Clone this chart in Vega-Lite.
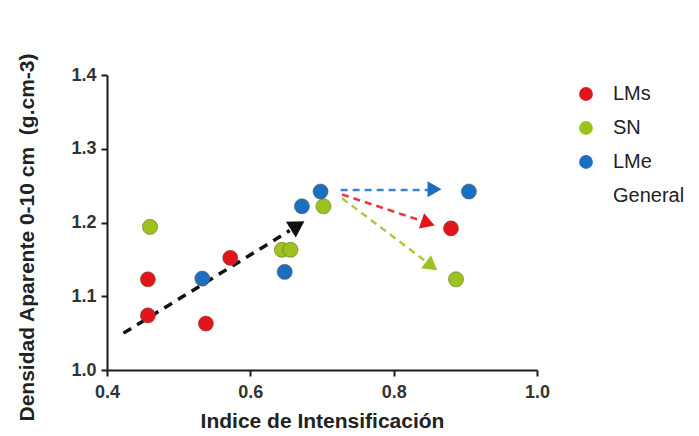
{
  "$schema": "https://vega.github.io/schema/vega-lite/v6.json",
  "width": 430,
  "height": 295,
  "autosize": {"type": "none"},
  "padding": {"left": 107, "top": 75, "right": 162, "bottom": 66},
  "background": "white",
  "config": {
    "view": {"stroke": null},
    "font": "Liberation Sans",
    "axis": {"grid": false, "labelFlush": false, "domainColor": "#1a1a1a", "domainWidth": 2, "tickColor": "#1a1a1a", "tickWidth": 2, "tickSize": 6, "labelFont": "Liberation Sans", "labelFontWeight": "bold", "labelFontSize": 18, "labelColor": "#333333", "titleFont": "Liberation Sans", "titleFontWeight": "bold", "titleFontSize": 21, "titleColor": "#222222"},
    "legend": {"padding": 0}
  },
  "datasets": {
    "pts": [
      {"x": 0.457, "y": 1.074, "grupo": "LMs"},
      {"x": 0.457, "y": 1.123, "grupo": "LMs"},
      {"x": 0.538, "y": 1.063, "grupo": "LMs"},
      {"x": 0.572, "y": 1.152, "grupo": "LMs"},
      {"x": 0.880, "y": 1.192, "grupo": "LMs"},
      {"x": 0.460, "y": 1.194, "grupo": "SN"},
      {"x": 0.644, "y": 1.163, "grupo": "SN"},
      {"x": 0.656, "y": 1.163, "grupo": "SN"},
      {"x": 0.702, "y": 1.222, "grupo": "SN"},
      {"x": 0.887, "y": 1.123, "grupo": "SN"},
      {"x": 0.533, "y": 1.124, "grupo": "LMe"},
      {"x": 0.648, "y": 1.133, "grupo": "LMe"},
      {"x": 0.672, "y": 1.222, "grupo": "LMe"},
      {"x": 0.698, "y": 1.242, "grupo": "LMe"},
      {"x": 0.905, "y": 1.242, "grupo": "LMe"}
    ],
    "lines": [
      {"arrow": "General", "x": 0.423, "y": 1.050, "o": 1},
      {"arrow": "General", "x": 0.655, "y": 1.189, "o": 2},
      {"arrow": "LMe", "x": 0.726, "y": 1.244, "o": 1},
      {"arrow": "LMe", "x": 0.848, "y": 1.244, "o": 2},
      {"arrow": "LMs", "x": 0.728, "y": 1.238, "o": 1},
      {"arrow": "LMs", "x": 0.840, "y": 1.202, "o": 2},
      {"arrow": "SN", "x": 0.728, "y": 1.233, "o": 1},
      {"arrow": "SN", "x": 0.845, "y": 1.147, "o": 2}
    ],
    "heads": [
      {"arrow": "General", "x": 0.666, "y": 1.196},
      {"arrow": "LMe", "x": 0.857, "y": 1.245},
      {"arrow": "LMs", "x": 0.848, "y": 1.199},
      {"arrow": "SN", "x": 0.853, "y": 1.141}
    ]
  },
  "layer": [
    {
      "data": {"name": "lines"},
      "transform": [{"filter": "datum.arrow == 'General'"}],
      "mark": {"type": "line", "color": "#111111", "strokeWidth": 3.5, "strokeDash": [9, 7]},
      "encoding": {
        "x": {"field": "x", "type": "quantitative", "scale": {"domain": [0.4, 1.0], "nice": false}, "axis": {"values": [0.4, 0.6, 0.8, 1.0], "format": ".1f", "title": "Indice de Intensificación", "titlePadding": 9, "labelPadding": 7}},
        "y": {"field": "y", "type": "quantitative", "scale": {"domain": [1.0, 1.4], "nice": false, "zero": false}, "axis": {"values": [1.0, 1.1, 1.2, 1.3, 1.4], "format": ".1f", "title": "Densidad Aparente 0-10 cm \u00a0(g.cm-3)", "titlePadding": 33, "titleY": 162, "labelPadding": 5}},
        "order": {"field": "o"}
      }
    },
    {
      "data": {"name": "lines"},
      "transform": [{"filter": "datum.arrow != 'General'"}],
      "mark": {"type": "line", "strokeWidth": 2.5, "strokeDash": [7, 5], "opacity": 0.85},
      "encoding": {
        "x": {"field": "x", "type": "quantitative"},
        "y": {"field": "y", "type": "quantitative"},
        "detail": {"field": "arrow"},
        "stroke": {"field": "arrow", "type": "nominal", "scale": {"domain": ["LMs", "SN", "LMe"], "range": ["#e3151a", "#9cc21c", "#1c6fc0"]}, "legend": null},
        "order": {"field": "o"}
      }
    },
    {
      "data": {"name": "heads"},
      "transform": [{"filter": "datum.arrow == 'General'"}],
      "mark": {"type": "point", "shape": "triangle-right", "filled": true, "color": "#111111", "size": 340, "angle": 328, "opacity": 1},
      "encoding": {"x": {"field": "x", "type": "quantitative"}, "y": {"field": "y", "type": "quantitative"}}
    },
    {
      "data": {"name": "heads"},
      "transform": [{"filter": "datum.arrow == 'LMe'"}],
      "mark": {"type": "point", "shape": "triangle-right", "filled": true, "color": "#1c6fc0", "size": 260, "angle": 0, "opacity": 1},
      "encoding": {"x": {"field": "x", "type": "quantitative"}, "y": {"field": "y", "type": "quantitative"}}
    },
    {
      "data": {"name": "heads"},
      "transform": [{"filter": "datum.arrow == 'LMs'"}],
      "mark": {"type": "point", "shape": "triangle-right", "filled": true, "color": "#e3151a", "size": 260, "angle": 19, "opacity": 1},
      "encoding": {"x": {"field": "x", "type": "quantitative"}, "y": {"field": "y", "type": "quantitative"}}
    },
    {
      "data": {"name": "heads"},
      "transform": [{"filter": "datum.arrow == 'SN'"}],
      "mark": {"type": "point", "shape": "triangle-right", "filled": true, "color": "#9cc21c", "size": 260, "angle": 37, "opacity": 1},
      "encoding": {"x": {"field": "x", "type": "quantitative"}, "y": {"field": "y", "type": "quantitative"}}
    },
    {
      "data": {"name": "pts"},
      "mark": {"type": "circle", "size": 230, "opacity": 1, "stroke": "#5a5a3a", "strokeWidth": 1, "strokeOpacity": 0.5},
      "encoding": {
        "x": {"field": "x", "type": "quantitative"},
        "y": {"field": "y", "type": "quantitative"},
        "color": {"field": "grupo", "type": "nominal", "scale": {"domain": ["LMs", "SN", "LMe", "General"], "range": ["#e3151a", "#9cc21c", "#1c6fc0", "#ffffff"]},
          "legend": {"title": null, "orient": "none", "legendX": 469, "legendY": 9, "symbolType": "circle", "symbolSize": 190, "symbolStrokeWidth": 0, "labelFont": "Liberation Sans", "labelFontSize": 20, "labelColor": "#222222", "labelOffset": 17, "rowPadding": 14, "values": ["LMs", "SN", "LMe", "General"]}}
      }
    }
  ]
}
